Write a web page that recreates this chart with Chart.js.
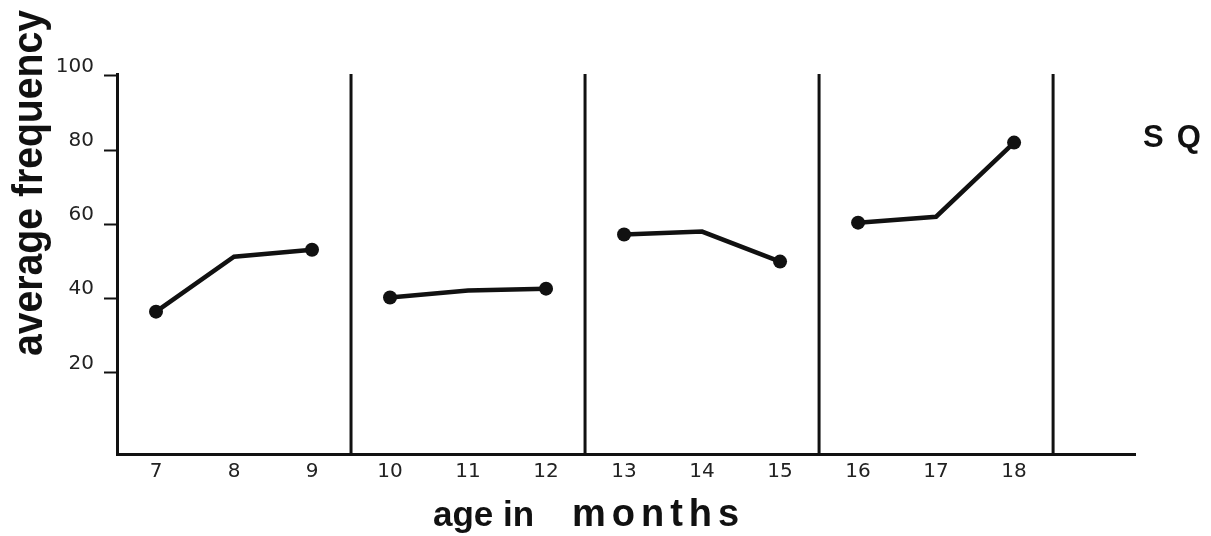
<!DOCTYPE html>
<html>
<head>
<meta charset="utf-8">
<script src="https://cdn.jsdelivr.net/npm/chart.js@4.4.1/dist/chart.umd.min.js"></script>
<style>
  html, body { margin:0; padding:0; background:#fff; }
  #wrap { width:1211px; height:536px; }
</style>
</head>
<body>
<div id="wrap"><canvas id="sqChart" width="1211" height="536"></canvas></div>
<script>
// ages (months) and average frequency
const ages = [7, 8, 9, 10, 11, 12, 13, 14, 15, 16, 17, 18];
const freq = [36.4, 51.2, 53.1, 40.2, 42.1, 42.6, 57.2, 58.0, 49.9, 60.4, 62.0, 82.0];
const groupSize = 3;
const dividers = [9.5, 12.5, 15.5, 18.5];
const yTicks = [20, 40, 60, 80, 100];
const yMin = -2, yMax = 100.5;
const xMin = 6.5, xMax = 19.55;

const ink = '#111';

// one line per panel, dots only on the first and last month
const groups = [];
for (let i = 0; i < ages.length; i += groupSize) {
  const pts = ages.slice(i, i + groupSize).map((a, j) => ({ x: a, y: freq[i + j] }));
  groups.push({
    data: pts,
    borderColor: ink,
    borderWidth: 4.5,
    backgroundColor: ink,
    pointRadius: pts.map((p, j) => (j === 0 || j === pts.length - 1) ? 7 : 0),
    pointBorderWidth: 0,
    tension: 0
  });
}
const dividerSets = dividers.map(d => ({
  data: [{ x: d, y: yMin }, { x: d, y: yMax }],
  borderColor: ink,
  borderWidth: 3,
  pointRadius: 0
}));

const textPlugin = {
  id: 'texts',
  afterDraw(chart) {
    const ctx = chart.ctx;
    ctx.save();
    ctx.fillStyle = ink;

    // y title, squeezed to the length it has in the picture
    ctx.save();
    ctx.translate(30, 183);
    ctx.rotate(-Math.PI / 2);
    ctx.font = 'bold 42px "Liberation Sans", Arial, sans-serif';
    ctx.textAlign = 'center';
    ctx.textBaseline = 'middle';
    const yt = 'average frequency';
    ctx.scale(346 / ctx.measureText(yt).width, 1);
    ctx.fillText(yt, 0, 0);
    ctx.restore();

    // x title
    ctx.textBaseline = 'alphabetic';
    ctx.textAlign = 'left';
    ctx.font = 'bold 35px "Liberation Sans", Arial, sans-serif';
    ctx.letterSpacing = '0px';
    ctx.fillText('age in', 433, 526);
    ctx.font = 'bold 38px "Liberation Sans", Arial, sans-serif';
    ctx.letterSpacing = '6px';
    ctx.fillText('months', 572, 526);

    // series tag
    ctx.font = 'bold 31px "Liberation Sans", Arial, sans-serif';
    ctx.letterSpacing = '13px';
    ctx.fillText('SQ', 1143, 147);
    ctx.restore();
  }
};

new Chart(document.getElementById('sqChart').getContext('2d'), {
  type: 'line',
  data: { datasets: [...groups, ...dividerSets] },
  options: {
    responsive: false,
    animation: false,
    layout: { padding: { left: 0, top: 74, right: 76, bottom: 0 } },
    plugins: { legend: { display: false }, tooltip: { enabled: false } },
    scales: {
      x: {
        type: 'linear',
        min: xMin,
        max: xMax,
        afterBuildTicks: s => { s.ticks = ages.map(v => ({ value: v })); },
        afterFit: s => { s.height = 82; },
        grid: { drawOnChartArea: false, drawTicks: false },
        border: { display: true, color: ink, width: 3 },
        ticks: {
          color: '#222',
          padding: 6,
          font: { family: '"DejaVu Sans", sans-serif', size: 20 },
          maxRotation: 0,
          autoSkip: false
        }
      },
      y: {
        min: yMin,
        max: yMax,
        afterBuildTicks: s => { s.ticks = yTicks.map(v => ({ value: v })); },
        afterFit: s => { s.width = 117; },
        grid: { drawOnChartArea: false, drawTicks: true, tickLength: 13, tickWidth: 2, color: ink },
        border: { display: true, color: ink, width: 3 },
        ticks: {
          color: '#222',
          padding: 10,
          labelOffset: -9,
          font: { family: '"DejaVu Sans", sans-serif', size: 20 }
        }
      }
    }
  },
  plugins: [textPlugin]
});
</script>
</body>
</html>
